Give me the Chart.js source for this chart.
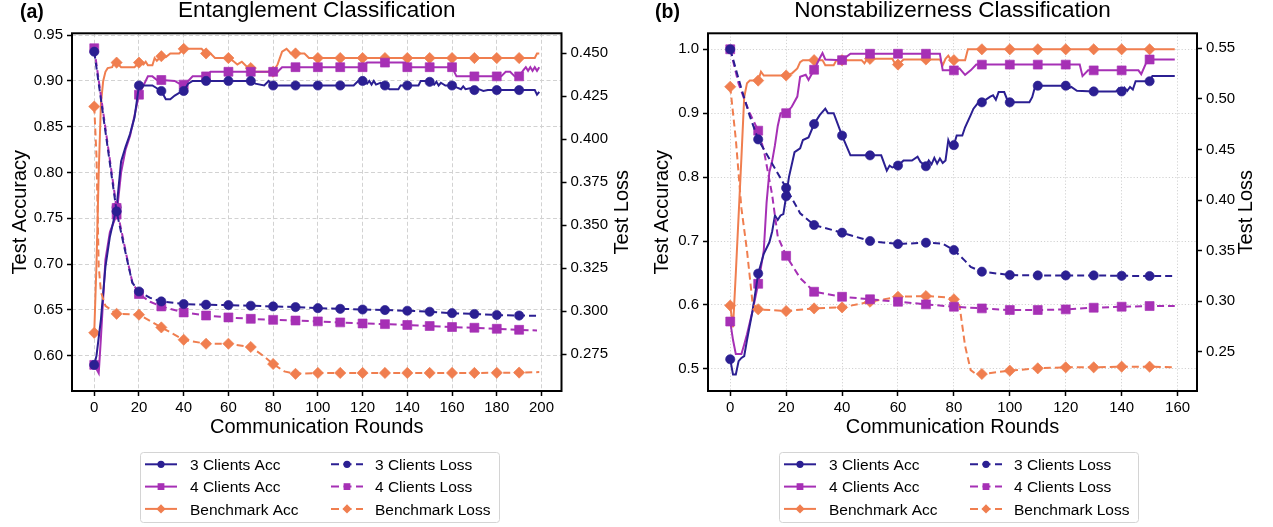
<!DOCTYPE html>
<html>
<head>
<meta charset="utf-8">
<script src="https://cdn.jsdelivr.net/npm/chart.js@4.4.1/dist/chart.umd.min.js"></script>
<style>
  html, body { margin: 0; padding: 0; background: #fff; }
  #wrap { position: relative; width: 1273px; height: 527px; }
  #wrap canvas { position: absolute; top: 0; }
  #chartA { left: 0; }
  #chartB { left: 636px; }
</style>
</head>
<body>
<div id="wrap">
  <canvas id="chartA" width="636" height="527" style="width:636px;height:527px"></canvas>
  <canvas id="chartB" width="637" height="527" style="width:637px;height:527px"></canvas>
</div>
<script>
// ---- (a) Entanglement Classification: [round, value] ----
const aXTicks = [0, 20, 40, 60, 80, 100, 120, 140, 160, 180, 200];
const aAccTicks = [0.60, 0.65, 0.70, 0.75, 0.80, 0.85, 0.90, 0.95];
const aLossTicks = [0.275, 0.300, 0.325, 0.350, 0.375, 0.400, 0.425, 0.450];

const aAcc3 = [[0,0.590],[1,0.600],[3,0.640],[5,0.697],[7,0.730],[10,0.762],[12,0.812],[14,0.828],[16,0.842],[18,0.860],[20,0.895],[22,0.895],[26,0.895],[28,0.892],[30,0.889],[32,0.880],[34,0.880],[36,0.884],[38,0.887],[40,0.889],[42,0.897],[44,0.900],[50,0.900],[60,0.900],[70,0.900],[72,0.897],[76,0.895],[78,0.900],[79,0.897],[80,0.895],[90,0.895],[100,0.895],[110,0.895],[116,0.895],[118,0.900],[120,0.900],[122,0.897],[123,0.900],[124,0.896],[125,0.900],[126,0.896],[128,0.898],[130,0.895],[132,0.891],[136,0.891],[137,0.895],[140,0.895],[145,0.895],[146,0.900],[148,0.900],[150,0.899],[152,0.896],[153,0.899],[154,0.895],[155,0.898],[157,0.895],[160,0.895],[162,0.893],[164,0.891],[165,0.894],[166,0.891],[168,0.892],[170,0.890],[172,0.891],[174,0.889],[176,0.890],[180,0.890],[190,0.890],[197,0.890],[198,0.885],[199,0.888]];
const aAcc4 = [[0,0.590],[2,0.581],[3,0.620],[5,0.705],[7,0.735],[10,0.754],[12,0.800],[14,0.825],[16,0.840],[18,0.862],[20,0.885],[22,0.895],[24,0.905],[26,0.905],[28,0.901],[30,0.901],[36,0.900],[38,0.897],[40,0.896],[42,0.900],[44,0.905],[50,0.905],[52,0.910],[60,0.910],[70,0.910],[80,0.910],[82,0.910],[84,0.915],[90,0.915],[100,0.915],[110,0.915],[120,0.915],[122,0.920],[130,0.920],[139,0.920],[140,0.915],[150,0.915],[160,0.915],[162,0.905],[170,0.905],[180,0.905],[182,0.905],[184,0.910],[186,0.910],[188,0.905],[190,0.905],[192,0.912],[193,0.915],[194,0.911],[195,0.915],[196,0.911],[197,0.915],[198,0.911],[199,0.915]];
const aAccB = [[0,0.625],[1,0.700],[2,0.800],[3,0.876],[4,0.900],[5,0.910],[6,0.914],[8,0.915],[9,0.920],[10,0.920],[12,0.915],[18,0.915],[20,0.920],[22,0.918],[23,0.921],[24,0.917],[26,0.917],[27,0.925],[28,0.922],[30,0.927],[32,0.926],[34,0.930],[38,0.930],[40,0.935],[48,0.935],[50,0.930],[52,0.930],[54,0.925],[60,0.925],[62,0.922],[64,0.918],[66,0.921],[68,0.916],[70,0.914],[72,0.910],[80,0.910],[82,0.918],[84,0.932],[86,0.935],[88,0.930],[90,0.930],[94,0.930],[96,0.925],[100,0.925],[110,0.925],[120,0.925],[130,0.925],[140,0.925],[150,0.925],[160,0.925],[170,0.925],[180,0.925],[190,0.925],[197,0.925],[198,0.930],[199,0.930]];
const aLoss3 = [[0,0.4509],[10,0.358],[13,0.3397],[15,0.3281],[17,0.3165],[20,0.3114],[25,0.3077],[30,0.3056],[40,0.3041],[50,0.3037],[60,0.3035],[70,0.3031],[80,0.3027],[90,0.3023],[100,0.3017],[110,0.3013],[120,0.3009],[130,0.3006],[140,0.3002],[150,0.2996],[160,0.2988],[170,0.2983],[180,0.2977],[190,0.2974],[199,0.2973]];
const aLoss4 = [[0,0.4529],[10,0.360],[13,0.3415],[15,0.3287],[17,0.3170],[20,0.3099],[25,0.3054],[30,0.3027],[40,0.2992],[50,0.2974],[60,0.2963],[70,0.2955],[80,0.2949],[90,0.2945],[100,0.2940],[110,0.2934],[120,0.2928],[130,0.2924],[140,0.2919],[150,0.2913],[160,0.2907],[170,0.2903],[180,0.2897],[190,0.2891],[198,0.2887]];
const aLossB = [[0,0.419],[1,0.390],[2,0.326],[3,0.311],[5,0.303],[10,0.2984],[20,0.2979],[30,0.2905],[40,0.2833],[50,0.2810],[60,0.2810],[70,0.2791],[76,0.2736],[80,0.2692],[85,0.2649],[90,0.2635],[100,0.2640],[110,0.2640],[120,0.2640],[130,0.2640],[140,0.2640],[150,0.2640],[160,0.2640],[170,0.2640],[180,0.2641],[190,0.2642],[199,0.2645]];

// ---- (b) Nonstabilizerness Classification ----
const bXTicks = [0, 20, 40, 60, 80, 100, 120, 140, 160];
const bAccTicks = [0.5, 0.6, 0.7, 0.8, 0.9, 1.0];
const bLossTicks = [0.25, 0.30, 0.35, 0.40, 0.45, 0.50, 0.55];

const bAcc3 = [[0,0.515],[1,0.491],[2,0.491],[3,0.512],[4,0.517],[5,0.520],[6,0.545],[8,0.591],[10,0.649],[12,0.680],[14,0.698],[15,0.715],[16,0.740],[17,0.733],[18,0.740],[19,0.742],[20,0.770],[21,0.800],[23,0.839],[25,0.845],[26,0.858],[28,0.862],[30,0.883],[32,0.897],[34,0.907],[35,0.900],[37,0.900],[40,0.865],[43,0.834],[50,0.834],[54,0.834],[56,0.810],[57,0.818],[58,0.815],[60,0.818],[62,0.826],[65,0.826],[67,0.832],[68,0.824],[70,0.817],[71,0.826],[72,0.820],[73,0.830],[74,0.821],[75,0.829],[76,0.822],[77,0.826],[78,0.858],[79,0.847],[80,0.850],[81,0.865],[83,0.865],[84,0.878],[86,0.897],[87,0.907],[89,0.918],[90,0.917],[93,0.926],[94,0.928],[95,0.921],[96,0.933],[98,0.933],[99,0.922],[100,0.917],[107,0.917],[108,0.925],[109,0.941],[110,0.943],[120,0.943],[121,0.939],[122,0.941],[124,0.935],[130,0.934],[138,0.934],[139,0.939],[140,0.934],[141,0.940],[142,0.935],[143,0.941],[144,0.937],[145,0.950],[150,0.950],[151,0.958],[159,0.958]];
const bAcc4 = [[0,0.574],[1,0.545],[2,0.523],[4,0.523],[5,0.538],[6,0.554],[8,0.591],[10,0.633],[12,0.685],[13,0.760],[14,0.808],[15,0.825],[16,0.850],[17,0.880],[18,0.900],[20,0.900],[22,0.910],[24,0.926],[25,0.957],[27,0.960],[28,0.952],[30,0.968],[32,0.986],[33,0.994],[34,0.984],[40,0.983],[43,0.993],[50,0.993],[60,0.993],[70,0.993],[75,0.993],[76,0.967],[80,0.967],[82,0.970],[84,0.960],[86,0.967],[88,0.976],[90,0.976],[100,0.976],[110,0.976],[120,0.976],[125,0.976],[126,0.958],[128,0.967],[130,0.967],[140,0.967],[146,0.967],[147,0.961],[149,0.981],[150,0.984],[159,0.984]];
const bAccB = [[0,0.599],[1,0.565],[2,0.650],[3,0.740],[4,0.830],[5,0.925],[6,0.947],[7,0.951],[10,0.951],[11,0.965],[12,0.959],[20,0.959],[22,0.962],[24,0.970],[25,0.980],[26,0.983],[30,0.983],[33,0.983],[34,0.975],[37,0.975],[38,0.983],[40,0.983],[47,0.983],[48,0.978],[49,0.985],[50,0.985],[58,0.985],[59,0.977],[60,0.976],[62,0.984],[70,0.984],[75,0.984],[76,0.975],[77,0.985],[78,0.990],[79,0.983],[80,0.983],[84,0.983],[85,1.000],[90,1.000],[100,1.000],[110,1.000],[120,1.000],[130,1.000],[140,1.000],[150,1.000],[159,1.000]];
const bLoss3 = [[0,0.549],[4,0.510],[7,0.483],[10,0.460],[15,0.436],[20,0.412],[25,0.387],[30,0.3754],[40,0.3678],[50,0.3596],[60,0.3566],[70,0.3579],[76,0.357],[80,0.3507],[84,0.340],[86,0.334],[90,0.3293],[100,0.326],[110,0.3256],[120,0.3256],[130,0.3256],[140,0.3252],[150,0.325],[159,0.325]];
const bLoss4 = [[0,0.549],[3,0.515],[5,0.500],[7,0.486],[10,0.4686],[12,0.4495],[14,0.420],[15,0.405],[17,0.364],[20,0.345],[25,0.323],[30,0.3095],[40,0.3045],[50,0.302],[60,0.2996],[70,0.297],[80,0.2947],[90,0.293],[100,0.2914],[110,0.2914],[120,0.292],[130,0.2937],[140,0.2947],[150,0.2953],[159,0.2953]];
const bLossB = [[0,0.512],[2,0.460],[4,0.392],[6,0.350],[8,0.298],[10,0.2921],[20,0.2904],[30,0.293],[40,0.294],[50,0.2996],[60,0.3045],[70,0.3052],[77,0.304],[80,0.302],[82,0.296],[84,0.256],[86,0.232],[88,0.228],[90,0.2282],[100,0.2315],[110,0.2338],[120,0.2348],[130,0.2348],[140,0.2354],[150,0.2354],[159,0.2348]];

const seriesNames = ['3 Clients', '4 Clients', 'Benchmark'];

// ---- styles ----
const FONT = "'Liberation Sans', Arial, Helvetica, sans-serif";
const COLORS = ['#2b1f92', '#a630b5', '#f07e4f'];
const STYLES = ['circle', 'rect', 'rectRot'];
const SIZES = { circle: 4.6, rect: 6.3, rectRot: 5.6 };
const LEGEND_SIZES = { circle: 3.6, rect: 4.8, rectRot: 4.6 };
const GRID = '#d2d2d2';
const LOSS_DASH = [7, 4];

Chart.defaults.font.family = FONT;
Chart.defaults.color = '#000';

function drawMarker(ctx, style, x, y, r) {
    ctx.beginPath();
    if (style === 'circle') {
        ctx.arc(x, y, r, 0, Math.PI * 2);
    } else if (style === 'rect') {
        const h = r * Math.SQRT1_2;
        ctx.rect(x - h, y - h, 2 * h, 2 * h);
    } else {
        ctx.moveTo(x - r, y);
        ctx.lineTo(x, y - r);
        ctx.lineTo(x + r, y);
        ctx.lineTo(x, y + r);
        ctx.closePath();
    }
    ctx.fill();
}

function drawLegend(ctx, x0, y0) {
    ctx.save();
    ctx.beginPath();
    ctx.roundRect(x0 + 0.5, y0 + 0.5, 359, 70, 3);
    ctx.fillStyle = 'rgba(255,255,255,0.85)';
    ctx.fill();
    ctx.strokeStyle = '#d4d4d4';
    ctx.lineWidth = 1;
    ctx.stroke();

    ctx.font = '15.5px ' + FONT;
    ctx.textAlign = 'left';
    ctx.textBaseline = 'alphabetic';
    seriesNames.forEach((name, i) => {
        const y = y0 + 12.3 + i * 22.3;
        const cols = [
            { hx: x0 + 5, tx: x0 + 50, dash: [], text: name + ' Acc' },
            { hx: x0 + 191, tx: x0 + 235, dash: [8, 4.5], text: name + ' Loss' }
        ];
        cols.forEach(c => {
            ctx.strokeStyle = COLORS[i];
            ctx.lineWidth = 2;
            ctx.setLineDash(c.dash);
            ctx.beginPath();
            ctx.moveTo(c.hx, y);
            ctx.lineTo(c.hx + 32, y);
            ctx.stroke();
            ctx.setLineDash([]);
            ctx.fillStyle = COLORS[i];
            drawMarker(ctx, STYLES[i], c.hx + 16, y, LEGEND_SIZES[STYLES[i]]);
            ctx.fillStyle = '#000';
            ctx.fillText(c.text, c.tx, y + 5.7);
        });
    });
    ctx.restore();
}

// frame, titles, axis titles and legend in matplotlib style
const panelDecor = {
    id: 'panelDecor',
    afterDraw(chart, args, o) {
        const { ctx, chartArea: a } = chart;
        const cx = (a.left + a.right) / 2;
        const cy = (a.top + a.bottom) / 2;
        ctx.save();
        ctx.strokeStyle = '#000';
        ctx.lineWidth = 2;
        ctx.strokeRect(a.left, a.top, a.right - a.left, a.bottom - a.top);

        ctx.fillStyle = '#000';
        ctx.textBaseline = 'alphabetic';
        ctx.textAlign = 'center';
        ctx.font = '22.5px ' + FONT;
        ctx.fillText(o.title, cx, 17);
        ctx.font = '20px ' + FONT;
        ctx.fillText('Communication Rounds', cx, 432.5);

        ctx.textAlign = 'left';
        ctx.font = 'bold 19.5px ' + FONT;
        ctx.fillText(o.tag, o.tagX, 17.5);

        ctx.font = '20px ' + FONT;
        ctx.textAlign = 'center';
        [[o.leftTitleX, 'Test Accuracy'], [o.rightTitleX, 'Test Loss']].forEach(([x, t]) => {
            ctx.save();
            ctx.translate(x, cy);
            ctx.rotate(-Math.PI / 2);
            ctx.fillText(t, 0, 0);
            ctx.restore();
        });

        drawLegend(ctx, o.legendX, 452);
        ctx.restore();
    }
};

function makeSeries(label, pairs, i, axis, dashed) {
    const style = STYLES[i];
    return {
        label: label,
        data: pairs.map(([x, y]) => ({ x: x, y: y })),
        yAxisID: axis,
        borderColor: COLORS[i],
        backgroundColor: COLORS[i],
        borderWidth: 2,
        borderDash: dashed ? LOSS_DASH : [],
        pointStyle: style,
        pointRadius: c => (c.raw && c.raw.x % 10 === 0 ? SIZES[style] : 0),
        pointBorderWidth: 1,
        pointBorderColor: COLORS[i] + 'aa',
        pointBackgroundColor: COLORS[i],
        tension: 0,
        order: dashed ? 0 : 1
    };
}

function makePanel(id, p) {
    const tickOpts = { color: '#000', font: { size: 15 }, padding: 4, autoSkip: false, maxRotation: 0 };
    const tickGrid = { drawTicks: true, tickLength: 5, tickColor: '#000', tickWidth: 1.5 };
    return new Chart(document.getElementById(id), {
        type: 'line',
        data: {
            datasets: [
                makeSeries('3 Clients Acc', p.acc[0], 0, 'y', false),
                makeSeries('4 Clients Acc', p.acc[1], 1, 'y', false),
                makeSeries('Benchmark Acc', p.acc[2], 2, 'y', false),
                makeSeries('3 Clients Loss', p.loss[0], 0, 'y1', true),
                makeSeries('4 Clients Loss', p.loss[1], 1, 'y1', true),
                makeSeries('Benchmark Loss', p.loss[2], 2, 'y1', true)
            ]
        },
        options: {
            responsive: false,
            animation: false,
            events: [],
            layout: { padding: { top: 33.3, bottom: 96, left: 0, right: 0 } },
            plugins: {
                legend: { display: false },
                tooltip: { enabled: false },
                panelDecor: p.decor
            },
            scales: {
                x: {
                    type: 'linear', min: p.xMin, max: p.xMax,
                    afterBuildTicks: s => { s.ticks = p.xTicks.map(v => ({ value: v })); },
                    afterFit: s => { s.height = 40; },
                    ticks: { ...tickOpts, padding: 3, callback: v => String(v) },
                    grid: { color: GRID, lineWidth: 1, ...tickGrid },
                    border: { display: false, dash: p.gridDash }
                },
                y: {
                    position: 'left', min: p.accMin, max: p.accMax,
                    afterBuildTicks: s => { s.ticks = p.accTicks.map(v => ({ value: v })); },
                    afterFit: s => { s.width = p.leftW; },
                    ticks: { ...tickOpts, callback: v => v.toFixed(p.accDec) },
                    grid: { color: GRID, lineWidth: 1, ...tickGrid },
                    border: { display: false, dash: p.gridDash }
                },
                y1: {
                    position: 'right', min: p.lossMin, max: p.lossMax,
                    afterBuildTicks: s => { s.ticks = p.lossTicks.map(v => ({ value: v })); },
                    afterFit: s => { s.width = p.rightW; },
                    ticks: { ...tickOpts, callback: v => v.toFixed(p.lossDec) },
                    grid: { drawOnChartArea: false, ...tickGrid },
                    border: { display: false }
                }
            }
        },
        plugins: [panelDecor]
    });
}

makePanel('chartA', {
    acc: [aAcc3, aAcc4, aAccB],
    loss: [aLoss3, aLoss4, aLossB],
    xTicks: aXTicks, accTicks: aAccTicks, lossTicks: aLossTicks,
    xMin: -9.95, xMax: 208.95,
    accMin: 0.5615, accMax: 0.952, accDec: 2,
    lossMin: 0.2535, lossMax: 0.4616, lossDec: 3,
    leftW: 72, rightW: 74.5,
    gridDash: [4, 2.5],
    decor: { title: 'Entanglement Classification', tag: '(a)', tagX: 20,
             leftTitleX: 25.5, rightTitleX: 628, legendX: 140 }
});

makePanel('chartB', {
    acc: [bAcc3, bAcc4, bAccB],
    loss: [bLoss3, bLoss4, bLossB],
    xTicks: bXTicks, accTicks: bAccTicks, lossTicks: bLossTicks,
    xMin: -7.95, xMax: 166.95,
    accMin: 0.4653, accMax: 1.025, accDec: 1,
    lossMin: 0.2114, lossMax: 0.5648, lossDec: 2,
    leftW: 72, rightW: 76,
    gridDash: [1.2, 2],
    decor: { title: 'Nonstabilizerness Classification', tag: '(b)', tagX: 19,
             leftTitleX: 32, rightTitleX: 616, legendX: 143 }
});
</script>
</body>
</html>
